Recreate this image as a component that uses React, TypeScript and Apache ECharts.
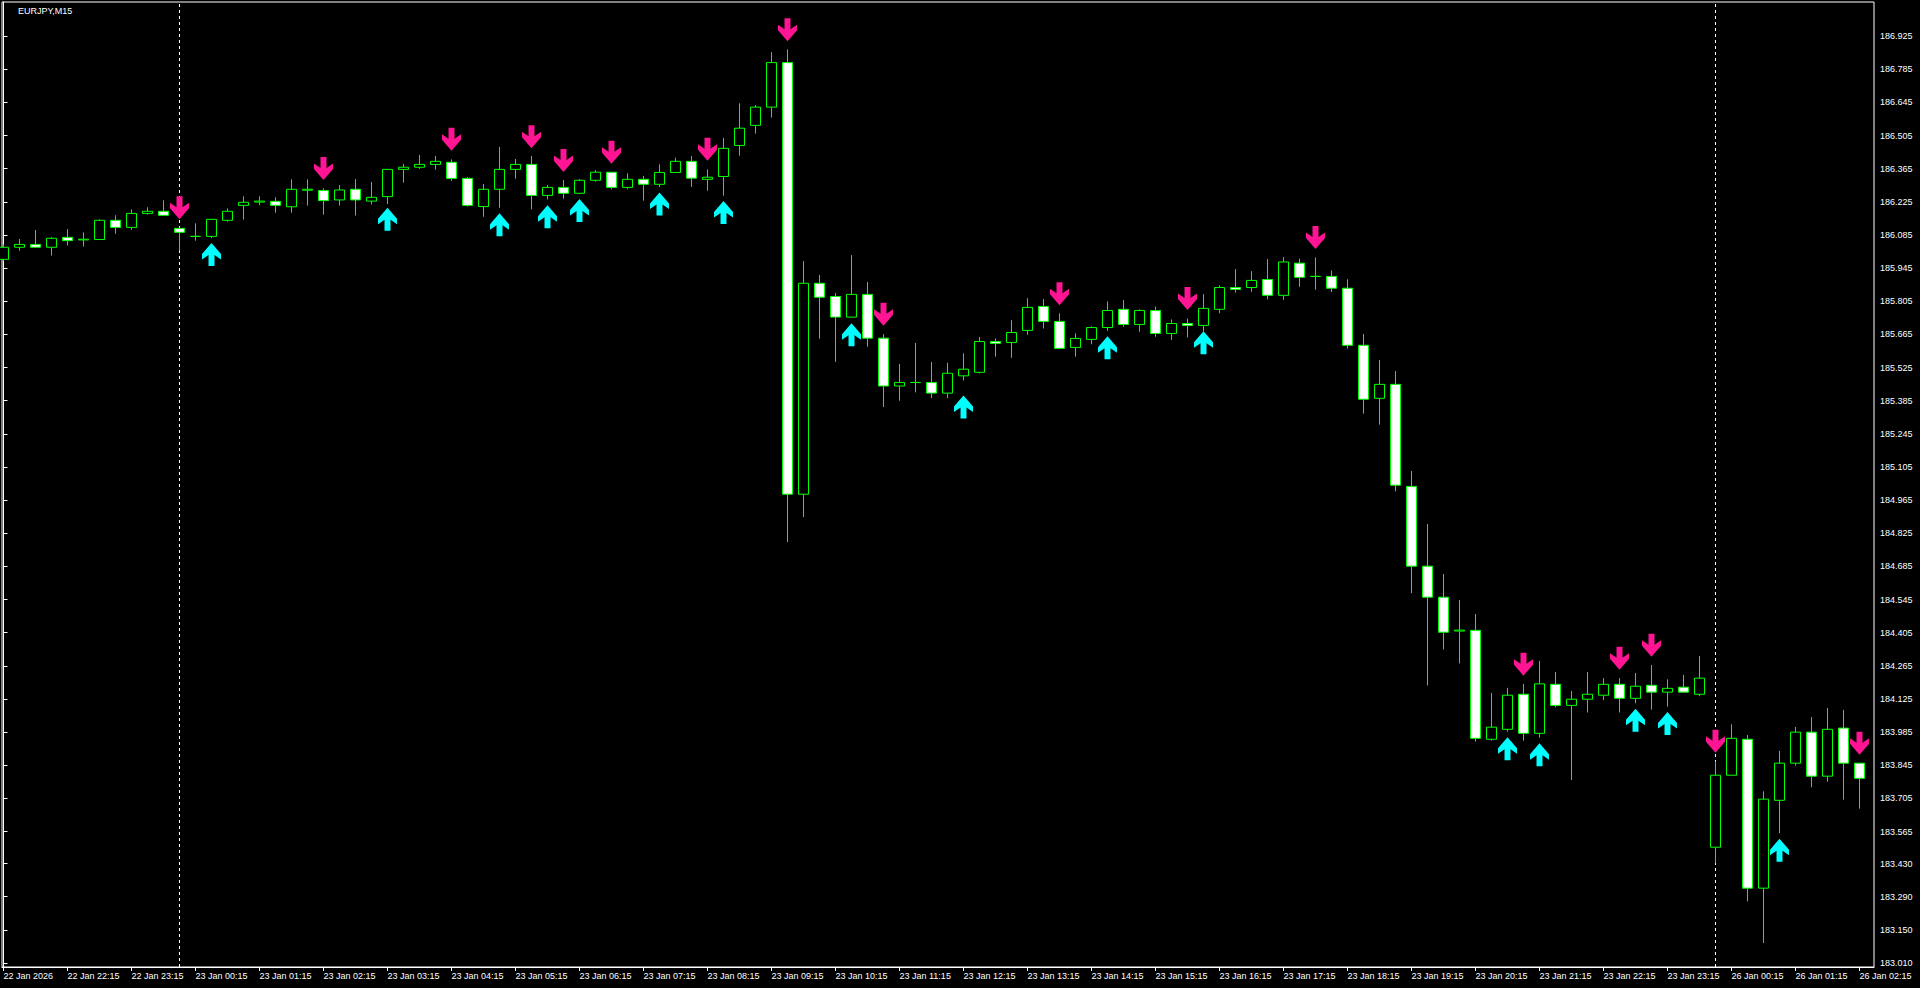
import React, { useEffect, useRef } from "react";
import * as echarts from "echarts";

const chartTitle = "EURJPY,M15";

// OHLC per M15 bar, 22 Jan 21:15 .. 26 Jan 02:15
const opens = [
  185.982, 186.033, 186.045, 186.033, 186.075, 186.064, 186.066, 186.147, 186.117, 186.176,
  186.185, 186.113, 186.079, 186.079, 186.147, 186.210, 186.224, 186.227, 186.204, 186.274,
  186.273, 186.233, 186.278, 186.228, 186.247, 186.362, 186.371, 186.383, 186.392, 186.324,
  186.205, 186.278, 186.362, 186.383, 186.252, 186.286, 186.261, 186.316, 186.350, 186.286,
  186.320, 186.299, 186.349, 186.396, 186.320, 186.332, 186.463, 186.548, 186.625, 186.813,
  184.990, 185.881, 185.825, 185.738, 185.834, 185.649, 185.447, 185.462, 185.462, 185.417,
  185.490, 185.505, 185.635, 185.631, 185.682, 185.783, 185.720, 185.610, 185.644, 185.694,
  185.771, 185.707, 185.766, 185.669, 185.711, 185.703, 185.771, 185.863, 185.863, 185.897,
  185.830, 185.966, 185.910, 185.910, 185.860, 185.619, 185.395, 185.454, 185.023, 184.686,
  184.555, 184.412, 184.415, 183.955, 183.997, 184.145, 183.980, 184.187, 184.098, 184.124,
  184.141, 184.187, 184.128, 184.183, 184.154, 184.175, 184.145, 183.499, 183.803, 183.955,
  183.326, 183.697, 183.854, 183.985, 183.799, 184.002, 183.854,
];
const closes = [
  186.033, 186.045, 186.033, 186.071, 186.061, 186.067, 186.147, 186.117, 186.176, 186.185,
  186.168, 186.096, 186.079, 186.151, 186.185, 186.223, 186.228, 186.210, 186.278, 186.278,
  186.230, 186.275, 186.233, 186.244, 186.362, 186.371, 186.383, 186.396, 186.324, 186.210,
  186.278, 186.362, 186.383, 186.252, 186.286, 186.261, 186.316, 186.350, 186.286, 186.320,
  186.299, 186.349, 186.396, 186.325, 186.329, 186.451, 186.536, 186.625, 186.813, 184.990,
  185.881, 185.822, 185.738, 185.834, 185.649, 185.447, 185.462, 185.462, 185.417, 185.501,
  185.518, 185.635, 185.627, 185.673, 185.779, 185.720, 185.606, 185.648, 185.694, 185.766,
  185.707, 185.766, 185.669, 185.711, 185.703, 185.775, 185.863, 185.855, 185.893, 185.830,
  185.971, 185.906, 185.910, 185.860, 185.619, 185.391, 185.454, 185.028, 184.686, 184.555,
  184.407, 184.416, 183.959, 184.006, 184.141, 183.980, 184.189, 184.098, 184.124, 184.145,
  184.187, 184.128, 184.179, 184.154, 184.170, 184.154, 184.213, 183.803, 183.959, 183.326,
  183.702, 183.854, 183.985, 183.799, 183.997, 183.854, 183.790,
];
const lows = [
  185.976, 186.019, 186.031, 185.998, 186.040, 186.036, 186.065, 186.090, 186.107, 186.171,
  186.166, 186.019, 186.061, 186.072, 186.141, 186.150, 186.211, 186.179, 186.179, 186.209,
  186.171, 186.209, 186.167, 186.214, 186.216, 186.306, 186.364, 186.361, 186.314, 186.205,
  186.162, 186.200, 186.323, 186.193, 186.235, 186.238, 186.258, 186.310, 186.278, 186.278,
  186.230, 186.288, 186.348, 186.288, 186.272, 186.251, 186.420, 186.513, 186.581, 184.788,
  184.893, 185.647, 185.549, 185.737, 185.613, 185.358, 185.385, 185.420, 185.396, 185.396,
  185.470, 185.500, 185.571, 185.566, 185.663, 185.690, 185.605, 185.571, 185.623, 185.680,
  185.697, 185.676, 185.655, 185.642, 185.652, 185.678, 185.754, 185.842, 185.845, 185.813,
  185.811, 185.866, 185.854, 185.844, 185.605, 185.330, 185.284, 185.002, 184.572, 184.182,
  184.334, 184.275, 183.945, 183.949, 183.987, 183.949, 183.962, 184.090, 183.783, 184.068,
  184.120, 184.068, 184.107, 184.080, 184.093, 184.153, 184.137, 183.431, 183.802, 183.270,
  183.094, 183.558, 183.844, 183.752, 183.776, 183.700, 183.662,
];
const highs = [
  186.045, 186.068, 186.106, 186.076, 186.110, 186.096, 186.151, 186.168, 186.193, 186.202,
  186.231, 186.116, 186.134, 186.152, 186.197, 186.248, 186.248, 186.244, 186.320, 186.320,
  186.282, 186.296, 186.321, 186.309, 186.363, 186.385, 186.423, 186.419, 186.404, 186.330,
  186.300, 186.457, 186.406, 186.419, 186.296, 186.317, 186.321, 186.359, 186.351, 186.345,
  186.334, 186.383, 186.411, 186.418, 186.362, 186.495, 186.641, 186.634, 186.857, 186.869,
  185.975, 185.916, 185.840, 186.000, 185.886, 185.666, 185.540, 185.629, 185.548, 185.545,
  185.585, 185.654, 185.648, 185.725, 185.818, 185.814, 185.754, 185.669, 185.699, 185.804,
  185.810, 185.771, 185.782, 185.728, 185.732, 185.835, 185.872, 185.941, 185.932, 185.983,
  185.992, 185.985, 185.990, 185.935, 185.898, 185.667, 185.557, 185.510, 185.088, 184.864,
  184.653, 184.543, 184.484, 184.151, 184.172, 184.189, 184.286, 184.239, 184.159, 184.239,
  184.213, 184.213, 184.235, 184.269, 184.208, 184.227, 184.307, 183.862, 184.018, 183.973,
  183.735, 183.906, 184.007, 184.049, 184.087, 184.079, 183.855,
];

// time axis labels (one every 4 bars, first bar = index 0)
const timeLabels = [
  "22 Jan 2026", "22 Jan 22:15", "22 Jan 23:15",
  "23 Jan 00:15", "23 Jan 01:15", "23 Jan 02:15", "23 Jan 03:15", "23 Jan 04:15", "23 Jan 05:15",
  "23 Jan 06:15", "23 Jan 07:15", "23 Jan 08:15", "23 Jan 09:15", "23 Jan 10:15", "23 Jan 11:15",
  "23 Jan 12:15", "23 Jan 13:15", "23 Jan 14:15", "23 Jan 15:15", "23 Jan 16:15", "23 Jan 17:15",
  "23 Jan 18:15", "23 Jan 19:15", "23 Jan 20:15", "23 Jan 21:15", "23 Jan 22:15", "23 Jan 23:15",
  "26 Jan 00:15", "26 Jan 01:15", "26 Jan 02:15",
];
const timeLabelStep = 4;

const priceTicks = [
  183.010, 183.150, 183.290, 183.430, 183.565, 183.705, 183.845, 183.985, 184.125, 184.265,
  184.405, 184.545, 184.685, 184.825, 184.965, 185.105, 185.245, 185.385, 185.525, 185.665,
  185.805, 185.945, 186.085, 186.225, 186.365, 186.505, 186.645, 186.785, 186.925,
];

const daySeparators = [11, 107];

const sellArrowBars = [11, 20, 28, 33, 35, 38, 44, 49, 55, 66, 74, 82, 95, 101, 103, 107, 116];
const sellArrowPrices = [
  186.200, 186.366, 186.489, 186.500, 186.400, 186.434, 186.447, 186.952, 185.750, 185.837,
  185.817, 186.074, 184.272, 184.297, 184.352, 183.947, 183.938,
];
const buyArrowBars = [13, 24, 31, 34, 36, 41, 45, 53, 60, 69, 75, 94, 96, 102, 104, 111];
const buyArrowPrices = [
  186.003, 186.151, 186.128, 186.162, 186.188, 186.216, 186.180, 185.664, 185.358, 185.609,
  185.630, 183.915, 183.890, 184.035, 184.021, 183.486,
];

const DOWN_ARROW = "path://M6.5,0 L12.5,0 L12.5,11 L19,6.5 L19,12 L9.5,23 L0,12 L0,6.5 L6.5,11 Z";
const UP_ARROW = "path://M6.5,23 L12.5,23 L12.5,12 L19,16.5 L19,11 L9.5,0 L0,11 L0,16.5 L6.5,12 Z";

const FONT = "'Liberation Sans', Arial, sans-serif";
const Y_MIN = 182.993;
const Y_MAX = 187.069;

export default function App() {
  const ref = useRef<HTMLDivElement>(null);

  useEffect(() => {
    if (!ref.current) return;
    const chart = echarts.init(ref.current, undefined, { renderer: "svg" });

    const candleData = opens.map((o, i) => [i, o, closes[i], lows[i], highs[i]]);
    const labelPositions = timeLabels.map((_, k) => k * timeLabelStep);

    const separatorSeries = daySeparators.map((d) => ({
      type: "line",
      data: [
        [d, Y_MIN],
        [d, Y_MAX],
      ],
      symbol: "none",
      silent: true,
      lineStyle: { color: "#ffffff", type: [3, 3], width: 1 },
      z: 1,
    }));

    chart.setOption({
      animation: false,
      backgroundColor: "#000000",
      graphic: [
        {
          type: "text",
          left: 18,
          top: 6,
          style: { text: chartTitle, fill: "#ffffff", font: `9px ${FONT}` },
        },
      ],
      grid: {
        left: 2,
        top: 2,
        right: 46,
        bottom: 21,
        show: true,
        borderColor: "#ffffff",
        borderWidth: 1,
        backgroundColor: "transparent",
      },
      xAxis: {
        type: "value",
        min: -0.094,
        max: 116.906,
        axisLine: { show: true, lineStyle: { color: "#ffffff", width: 1 } },
        axisTick: {
          show: true,
          length: 4,
          lineStyle: { color: "#ffffff" },
          customValues: labelPositions,
        },
        axisLabel: {
          show: true,
          customValues: labelPositions,
          formatter: (v: number) => timeLabels[Math.round(v / timeLabelStep)] ?? "",
          color: "#ffffff",
          fontSize: 9,
          fontFamily: FONT,
          align: "left",
          margin: 4,
        },
        splitLine: { show: false },
      },
      yAxis: {
        type: "value",
        position: "right",
        min: Y_MIN,
        max: Y_MAX,
        axisLine: { show: true, lineStyle: { color: "#ffffff", width: 1 } },
        axisTick: {
          show: true,
          length: 4,
          lineStyle: { color: "#ffffff" },
          customValues: priceTicks,
        },
        axisLabel: {
          show: true,
          customValues: priceTicks,
          formatter: (v: number) => v.toFixed(3),
          color: "#ffffff",
          fontSize: 9,
          fontFamily: FONT,
          margin: 6,
        },
        splitLine: { show: false },
      },
      series: [
        ...separatorSeries,
        {
          type: "candlestick",
          data: candleData,
          encode: { x: 0, y: [1, 2, 3, 4] },
          barWidth: 10,
          itemStyle: {
            color: "#000000",
            color0: "#ffffff",
            borderColor: "#00ff00",
            borderColor0: "#00ff00",
            borderWidth: 1,
          },
          z: 3,
        },
        {
          type: "scatter",
          symbol: DOWN_ARROW,
          symbolSize: [19, 23],
          itemStyle: { color: "#ff1493", opacity: 1 },
          data: sellArrowBars.map((b, k) => [b, sellArrowPrices[k]]),
          z: 5,
          silent: true,
        },
        {
          type: "scatter",
          symbol: UP_ARROW,
          symbolSize: [19, 23],
          itemStyle: { color: "#00ffff", opacity: 1 },
          data: buyArrowBars.map((b, k) => [b, buyArrowPrices[k]]),
          z: 5,
          silent: true,
        },
      ],
    });

    return () => {
      chart.dispose();
    };
  }, []);

  return (
    <div
      ref={ref}
      style={{
        position: "fixed",
        left: 0,
        top: 0,
        width: "1920px",
        height: "988px",
        background: "#000000",
      }}
    />
  );
}
